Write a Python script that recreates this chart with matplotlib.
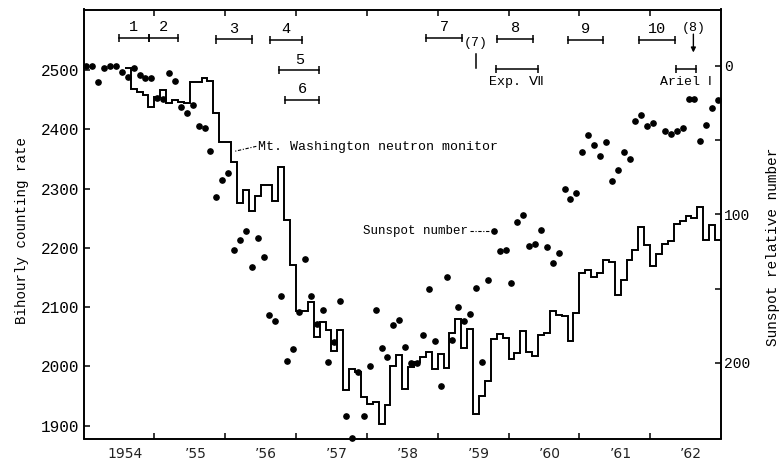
import numpy as np
import matplotlib.pyplot as plt

# Zurich sunspot relative number, monthly means Jan 1954 - Dec 1962
sunspot_1954 = [0.3, 0.3, 11.0, 1.6, 0.5, 0.2, 4.5, 7.5, 1.4, 6.1, 8.1, 8.1]
sunspot_1955 = [21.5, 22.2, 4.6, 10.5, 27.7, 31.8, 26.4, 40.9, 42.2, 57.6, 88.4, 76.6]
sunspot_1956 = [72.4, 123.7, 117.4, 111.3, 135.4, 116.0, 129.0, 167.8, 172.0, 155.0, 198.9, 190.3]
sunspot_1957 = [165.4, 130.1, 154.8, 173.6, 164.2, 199.2, 185.7, 158.0, 235.8, 250.6, 206.4, 236.0]
sunspot_1958 = [201.8, 164.6, 190.0, 195.7, 174.4, 170.8, 189.4, 199.9, 200.3, 180.9, 150.2, 185.4]
sunspot_1959 = [215.5, 142.3, 184.5, 162.0, 171.9, 166.8, 149.3, 199.1, 143.9, 110.9, 124.5, 124.1]
sunspot_1960 = [146.0, 105.3, 100.6, 121.6, 119.7, 110.8, 121.9, 133.0, 126.2, 82.9, 89.6, 85.5]
sunspot_1961 = [58.0, 46.9, 53.6, 60.9, 51.4, 77.4, 70.5, 58.4, 63.0, 37.0, 33.0, 40.8]
sunspot_1962 = [38.7, np.nan, 44.2, 46.0, 43.7, 42.1, 22.2, 22.2, 50.6, 39.8, 28.5, 23.4]

# Mt. Washington neutron monitor, monthly mean bihourly rate from Aug 1954
neutron_1954 = [2504, 2468, 2464, 2458, 2438]
neutron_1955 = [2455, 2467, 2444, 2449, 2447, 2445, 2481, 2481, 2487, 2482, 2428, 2379]
neutron_1956 = [2379, 2345, 2276, 2298, 2263, 2287, 2307, 2307, 2279, 2336, 2247, 2171]
neutron_1957 = [2094, 2094, 2109, 2050, 2075, 2062, 2026, 2062, 1960, 1996, 1991, 1948]
neutron_1958 = [1937, 1939, 1902, 1934, 2000, 2019, 1961, 1999, 2008, 2016, 2025, 1995]
neutron_1959 = [2021, 1997, 2056, 2080, 2031, 2063, 1920, 1950, 1976, 2046, 2055, 2047]
neutron_1960 = [2012, 2022, 2060, 2024, 2017, 2053, 2057, 2093, 2087, 2085, 2042, 2090]
neutron_1961 = [2158, 2162, 2151, 2158, 2180, 2176, 2120, 2146, 2179, 2196, 2235, 2205]
neutron_1962 = [2170, 2189, 2207, 2212, 2241, 2245, 2254, 2250, 2269, 2214, 2238, 2213]
neutron_first_month = 7  # August 1954

# observation periods marked along the top
period_labels = ["1", "2", "3", "4", "5", "6", "7", "8", "9", "10", "Exp. Ⅶ", "Ariel Ⅰ"]
period_start = [1954.50, 1954.92, 1955.87, 1956.63, 1956.76, 1956.84,
                1958.84, 1959.84, 1960.84, 1961.84, 1959.82, 1962.37]
period_end = [1954.92, 1955.33, 1956.38, 1957.09, 1957.33, 1957.33,
              1959.34, 1960.35, 1961.34, 1962.35, 1960.41, 1962.65]
period_level = [2555, 2555, 2552, 2551, 2500, 2450, 2555, 2553, 2551, 2551, 2502, 2502]

year_ticks = list(range(1955, 1963))
year_labels = ["1954", "’55", "’56", "’57", "’58", "’59", "’60", "’61", "’62"]

sunspot = np.array(sunspot_1954 + sunspot_1955 + sunspot_1956 + sunspot_1957 + sunspot_1958
                   + sunspot_1959 + sunspot_1960 + sunspot_1961 + sunspot_1962)
months = 1954 + (np.arange(len(sunspot)) + 0.5) / 12

neutron = np.array(neutron_1954 + neutron_1955 + neutron_1956 + neutron_1957 + neutron_1958
                   + neutron_1959 + neutron_1960 + neutron_1961 + neutron_1962)
edges = 1954 + (neutron_first_month + np.arange(len(neutron) + 1)) / 12

mono = ["Liberation Mono", "DejaVu Sans Mono", "DejaVu Sans"]

fig = plt.figure(figsize=(7.83, 4.63), dpi=100)
W, H = 783, 463
ax = fig.add_axes([83.5 / W, 1 - 438.5 / H, (721 - 83.5) / W, (438.5 - 9.5) / H])

ax.stairs(neutron, edges, baseline=None, color="black", lw=1.4)
ax.set_xlim(1954, 1963)
ax.set_ylim(1878.1, 2602.6)

ax2 = ax.twinx()
ax2.plot(months, sunspot, "o", color="black", ms=3.8, clip_on=False)
ax2.set_ylim(250.8, -37.8)

for a in (ax, ax2):
    for sp in a.spines.values():
        sp.set_linewidth(1.2)

# x axis: year boundaries as ticks, labels in the middle of each year
ax.set_xticks(year_ticks)
ax.set_xticklabels([])
ax.set_xticks([y + 0.58 for y in range(1954, 1963)], minor=True)
ax.set_xticklabels(year_labels, minor=True, fontsize=10, color="#222222")
ax.tick_params(axis="x", which="major", direction="in", length=4, width=1.1, top=True)
ax.tick_params(axis="x", which="minor", length=0, pad=6)

ax.set_yticks(range(1900, 2501, 100))
ax.tick_params(axis="y", direction="in", length=4, width=1.1, pad=3,
               labelsize=11.5, labelfontfamily="Liberation Mono")

ax2.set_yticks([0, 100, 200])
ax2.set_yticks([50, 150], minor=True)
ax2.tick_params(axis="y", which="both", direction="in", length=4, width=1.1, pad=2,
                labelsize=10.5, labelfontfamily="Liberation Mono")

fig.text(22 / W, 1 - 230 / H, "Bihourly counting rate", rotation=90, ha="center",
         va="center", family=mono, fontsize=10.2)
fig.text(773 / W, 1 - 247 / H, "Sunspot relative number", rotation=90, ha="center",
         va="center", family=mono, fontsize=10.4)

# observation periods
for lab, x0, x1, y in zip(period_labels, period_start, period_end, period_level):
    ax.plot([x0, x1], [y, y], color="black", lw=1.1)
    ax.vlines([x0, x1], y - 7, y + 7, color="black", lw=1.1)
    if lab.startswith("Exp") or lab.startswith("Ariel"):
        ax.text((x0 + x1) / 2, y - 22, lab, ha="center", va="center",
                family=mono, fontsize=9.5)
    else:
        ax.text((x0 + x1) / 2, y + 18, lab, ha="center", va="center",
                family=mono, fontsize=11)

ax.text(1959.54, 2546, "(7)", ha="center", va="center", family=mono, fontsize=9.5)
ax.plot([1959.54, 1959.54], [2528, 2504], color="black", lw=1.1)
ax.text(1962.61, 2571, "(8)", ha="center", va="center", family=mono, fontsize=9.5)
ax.annotate("", xy=(1962.61, 2530), xytext=(1962.61, 2561),
            arrowprops=dict(arrowstyle="-|>", color="black", lw=1.0,
                            mutation_scale=7, shrinkA=0, shrinkB=0))

# series labels with leaders
ax.text(1956.47, 2370.7, "Mt. Washington neutron monitor", ha="left", va="center",
        family=mono, fontsize=9.5)
ax.plot([1956.44, 1956.14], [2371.5, 2363.3], color="black", lw=0.8,
        linestyle=(0, (3, 1.5, 1, 1.5)))
ax.text(1957.94, 2229, "Sunspot number", ha="left", va="center", family=mono, fontsize=9)
ax.plot([1959.46, 1959.73], [2229, 2229], color="black", lw=0.8,
        linestyle=(0, (3, 1.5, 1, 1.5)))

fig.savefig("out.png", dpi=100)
